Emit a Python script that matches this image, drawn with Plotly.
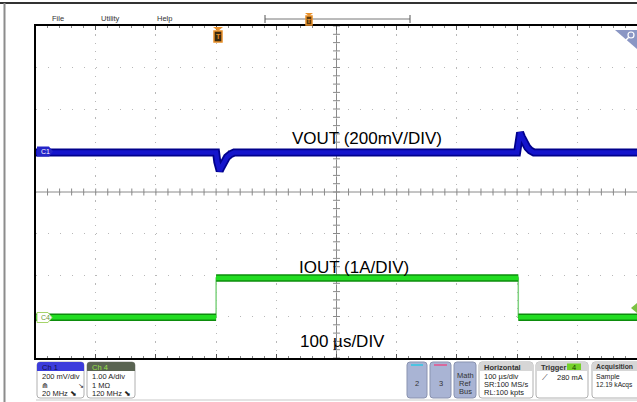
import numpy as np
import plotly.graph_objects as go

# ---- waveform data (time in µs, trigger at t=0) ----
VOUT_T_US = [-300, 0, 2, 4, 6, 9, 13, 18, 24, 30, 500, 502, 505, 508, 512, 517, 522, 528, 700]
VOUT_MV = [0, 0, -45, -80, -88, -70, -45, -22, -8, 0, 0, 60, 96, 75, 48, 25, 10, 0, 0]

IOUT_T_US = [-300, 0, 0, 502, 502, 700]
IOUT_A = [0, 0, 0.95, 0.95, 0, 0]

CH1_SCALE_MV = 200   # mV/div
CH1_OFFSET_DIV = 0.95
CH4_SCALE_A = 1.0    # A/div
CH4_OFFSET_DIV = -3.02

X_START_US = -300
US_PER_DIV = 100

W, H = 637, 402
FONT = "Liberation Sans"


def X(px):
    return px / W


def Y(py):
    return 1 - py / H


def rpath(x0, y0, x1, y1, r=3, top=True, bottom=True):
    rt = r if top else 0
    rb = r if bottom else 0
    return (f"M{X(x0 + rt)},{Y(y0)} L{X(x1 - rt)},{Y(y0)} Q{X(x1)},{Y(y0)} {X(x1)},{Y(y0 + rt)} "
            f"L{X(x1)},{Y(y1 - rb)} Q{X(x1)},{Y(y1)} {X(x1 - rb)},{Y(y1)} "
            f"L{X(x0 + rb)},{Y(y1)} Q{X(x0)},{Y(y1)} {X(x0)},{Y(y1 - rb)} "
            f"L{X(x0)},{Y(y0 + rt)} Q{X(x0)},{Y(y0)} {X(x0 + rt)},{Y(y0)} Z")


def flat_segments(t, v):
    # break the trace at vertical edges so only flat parts get the thick band
    xs, ys = [t[0]], [v[0]]
    for i in range(1, len(t)):
        if t[i] == t[i - 1]:
            xs.append(None)
            ys.append(None)
        xs.append(t[i])
        ys.append(v[i])
    return xs, ys


vout_div = [CH1_OFFSET_DIV + mv / CH1_SCALE_MV for mv in VOUT_MV]
iout_div = [CH4_OFFSET_DIV + a / CH4_SCALE_A for a in IOUT_A]

fig = go.Figure()

# center cross minor ticks
center_t = X_START_US + 5 * US_PER_DIV
minor_x = np.arange(X_START_US, X_START_US + 10 * US_PER_DIV + 1, US_PER_DIV / 5)
minor_y = np.arange(-4, 4.01, 0.2)
fig.add_trace(go.Scatter(x=minor_x, y=[0] * len(minor_x), mode="markers",
                         marker=dict(symbol="line-ns", size=5, line=dict(color="#8a8a8a", width=1)),
                         hoverinfo="skip"))
fig.add_trace(go.Scatter(x=[center_t] * len(minor_y), y=minor_y, mode="markers",
                         marker=dict(symbol="line-ew", size=5, line=dict(color="#8a8a8a", width=1)),
                         hoverinfo="skip"))

# Ch1 VOUT
fig.add_trace(go.Scatter(x=VOUT_T_US, y=vout_div, mode="lines",
                         line=dict(color="#00008c", width=8), hoverinfo="skip"))
fig.add_trace(go.Scatter(x=VOUT_T_US, y=vout_div, mode="lines",
                         line=dict(color="#1414cc", width=4.5), name="VOUT"))

# Ch4 IOUT
fig.add_trace(go.Scatter(x=IOUT_T_US, y=iout_div, mode="lines",
                         line=dict(color="#7fd27f", width=1.5), hoverinfo="skip"))
gx, gy = flat_segments(IOUT_T_US, iout_div)
fig.add_trace(go.Scatter(x=gx, y=gy, mode="lines", connectgaps=False,
                         line=dict(color="#0c8c0c", width=7.5), hoverinfo="skip"))
fig.add_trace(go.Scatter(x=gx, y=gy, mode="lines", connectgaps=False,
                         line=dict(color="#22dd22", width=4.5), name="IOUT"))

x_end = X_START_US + 10 * US_PER_DIV * (W - 35.5) / 602

fig.update_layout(
    width=W, height=H,
    margin=dict(l=0, r=0, t=0, b=0),
    paper_bgcolor="white", plot_bgcolor="white",
    showlegend=False,
    xaxis=dict(domain=[X(35.5), 1], range=[X_START_US, x_end],
               showline=True, linecolor="black", linewidth=2, mirror="ticks",
               ticks="inside", ticklen=4, tickcolor="#555", dtick=US_PER_DIV, tick0=X_START_US,
               minor=dict(ticks="inside", ticklen=2, dtick=US_PER_DIV / 5, tickcolor="#888"),
               showticklabels=False, zeroline=False,
               showgrid=True, gridcolor="#b8b8b8", gridwidth=1, griddash="1.2px,7.1px"),
    yaxis=dict(domain=[Y(358), Y(26)], range=[-4, 4],
               showline=True, linecolor="black", linewidth=2, mirror=False,
               ticks="", showticklabels=False, zeroline=False, dtick=1,
               showgrid=True, gridcolor="#b8b8b8", gridwidth=1, griddash="1.2px,10.8px"),
)

# center cross
fig.add_shape(type="line", xref="x", yref="paper", x0=center_t, x1=center_t, y0=Y(358), y1=Y(26),
              line=dict(color="#8a8a8a", width=1), layer="below")
fig.add_shape(type="line", xref="paper", yref="y", x0=X(35.5), x1=1, y0=0, y1=0,
              line=dict(color="#8a8a8a", width=1), layer="below")

shapes = []
# window frame
shapes.append(dict(type="line", x0=0, x1=1, y0=Y(3), y1=Y(3), line=dict(color="#333", width=2)))
shapes.append(dict(type="line", x0=X(4.5), x1=X(4.5), y0=Y(3), y1=0, line=dict(color="#8c8c8c", width=2)))
shapes.append(dict(type="line", x0=X(36), x1=1, y0=Y(400), y1=Y(400), line=dict(color="#c8c8c8", width=1)))

# timeline overview
shapes.append(dict(type="line", x0=X(265), x1=X(410), y0=Y(19), y1=Y(19), line=dict(color="#777", width=1)))
shapes.append(dict(type="line", x0=X(265), x1=X(265), y0=Y(15), y1=Y(23), line=dict(color="#555", width=1)))
shapes.append(dict(type="line", x0=X(410), x1=X(410), y0=Y(15), y1=Y(23), line=dict(color="#555", width=1)))
shapes.append(dict(type="path", path=f"M{X(305)},{Y(13)} L{X(313)},{Y(13)} L{X(309)},{Y(16)} Z",
                   fillcolor="#e8902a", line=dict(width=0)))
shapes.append(dict(type="rect", x0=X(306), x1=X(312), y0=Y(16), y1=Y(25),
                   fillcolor="#5a3a10", line=dict(color="#e8902a", width=1.5)))

# trigger position marker
shapes.append(dict(type="path", path=f"M{X(213)},{Y(27)} L{X(223)},{Y(27)} L{X(218)},{Y(31)} Z",
                   fillcolor="#e8902a", line=dict(width=0)))
shapes.append(dict(type="rect", x0=X(214), x1=X(222), y0=Y(31), y1=Y(42),
                   fillcolor="#3a2a10", line=dict(color="#e8902a", width=1.5)))

# channel tags
shapes.append(dict(type="path",
                   path=f"M{X(37)},{Y(146.5)} L{X(49)},{Y(146.5)} L{X(53)},{Y(151.5)} L{X(49)},{Y(156.5)} L{X(37)},{Y(156.5)} Z",
                   fillcolor="#2424c8", line=dict(width=0)))
shapes.append(dict(type="path",
                   path=f"M{X(37)},{Y(312.5)} L{X(48)},{Y(312.5)} L{X(52)},{Y(317.5)} L{X(48)},{Y(322.5)} L{X(37)},{Y(322.5)} Z",
                   fillcolor="white", line=dict(color="#a6d46a", width=1)))
# trigger level arrow
shapes.append(dict(type="path", path=f"M{X(637)},{Y(303)} L{X(631)},{Y(308)} L{X(637)},{Y(313)} Z",
                   fillcolor="#7cc243", line=dict(width=0)))
# zoom corner icon
shapes.append(dict(type="path", path=f"M{X(615)},{Y(30)} L{X(637)},{Y(30)} L{X(637)},{Y(49)} Z",
                   fillcolor="#8a96c4", line=dict(width=0)))
shapes.append(dict(type="circle", x0=X(628), x1=X(634), y0=Y(32), y1=Y(38),
                   fillcolor="rgba(0,0,0,0)", line=dict(color="white", width=1.2)))
shapes.append(dict(type="line", x0=X(628.5), x1=X(625), y0=Y(37.5), y1=Y(41), line=dict(color="white", width=1.5)))

# status bar boxes
shapes.append(dict(type="path", path=rpath(37, 362, 84, 398), fillcolor="white", line=dict(color="#b0b0b0", width=1)))
shapes.append(dict(type="path", path=rpath(37, 362, 84, 371, bottom=False), fillcolor="#3c3cdc", line=dict(width=0)))
shapes.append(dict(type="path", path=rpath(87, 362, 135, 398), fillcolor="white", line=dict(color="#b0b0b0", width=1)))
shapes.append(dict(type="path", path=rpath(87, 362, 135, 371, bottom=False), fillcolor="#5a6452", line=dict(width=0)))

for x0, x1 in [(407, 427), (430, 451), (454, 476)]:
    shapes.append(dict(type="path", path=rpath(x0, 362, x1, 398), fillcolor="#a9b4d4", line=dict(color="#8a93b0", width=1)))
shapes.append(dict(type="line", x0=X(411), x1=X(423), y0=Y(365), y1=Y(365), line=dict(color="#2ec8e6", width=1.5)))
shapes.append(dict(type="line", x0=X(434), x1=X(447), y0=Y(365), y1=Y(365), line=dict(color="#e8508a", width=1.5)))

for x0, x1 in [(479, 533), (536, 588), (592, 640)]:
    shapes.append(dict(type="path", path=rpath(x0, 362, x1, 398), fillcolor="white", line=dict(color="#b0b0b0", width=1)))
    shapes.append(dict(type="path", path=rpath(x0, 362, x1, 371, bottom=False), fillcolor="#d6d6d6", line=dict(width=0)))
shapes.append(dict(type="rect", x0=X(567), x1=X(581), y0=Y(363.5), y1=Y(370), fillcolor="#74d12a", line=dict(width=0)))

for s in shapes:
    s.setdefault("xref", "paper")
    s.setdefault("yref", "paper")
    fig.add_shape(**s)


def txt(x, y, s, size=7.5, color="#222", xanchor="left", bold=False, family=FONT):
    if bold:
        s = f"<b>{s}</b>"
    fig.add_annotation(x=X(x), y=Y(y), xref="paper", yref="paper", text=s, showarrow=False,
                       xanchor=xanchor, yanchor="middle", font=dict(family=family, size=size, color=color))


# menu
txt(50, 18, "File", color="#333")
txt(99, 18, "Utility", color="#333")
txt(155, 18, "Help", color="#333")
txt(309, 20.5, "T", size=6, color="#e8902a", xanchor="center", bold=True)
txt(218, 37, "T", size=7, color="#e8902a", xanchor="center", bold=True)

# channel tag labels
txt(39, 151.5, "C1", size=7, color="white")
txt(38.5, 317.5, "C4", size=7, color="#6a9a3a")

# waveform labels
txt(290, 139, "VOUT (200mV/DIV)", size=17, color="black")
txt(297, 267, "IOUT (1A/DIV)", size=17, color="black")
txt(298, 341, "100 µs/DIV", size=17, color="black")

# Ch 1 box
txt(40, 367, "Ch 1", color="#12124a")
txt(40, 376.5, "200 mV/div")
txt(40, 385, "⋒", size=7)
txt(76, 385, "↘", size=7)
txt(40, 393, "20 MHz ⬊", size=7.5)
# Ch 4 box
txt(90, 367, "Ch 4", color="#98e048")
txt(90, 376.5, "1.00 A/div")
txt(90, 385, "1 MΩ")
txt(90, 393, "120 MHz ⬊")
# 2 / 3 / Math
txt(417, 383, "2", xanchor="center", color="#333")
txt(440.5, 383, "3", xanchor="center", color="#333")
txt(465, 375, "Math", xanchor="center", color="#333")
txt(465, 383, "Ref", xanchor="center", color="#333")
txt(465, 391, "Bus", xanchor="center", color="#333")
# Horizontal
txt(482, 367, "Horizontal", bold=True, color="#333")
txt(482, 376.5, "100 µs/div")
txt(482, 384.5, "SR:100 MS/s")
txt(482, 392.5, "RL:100 kpts")
# Trigger
txt(539, 367, "Trigger", bold=True, color="#333")
txt(574, 367, "4", xanchor="center", color="#1a3a00")
txt(540, 377, "⟋", size=8)
txt(555, 377, "280 mA")
# Acquisition
txt(594, 367, "Acquisition", size=6.8, bold=True, color="#333")
txt(594, 376.5, "Sample", size=7)
txt(594, 384.5, "12.19 kAcqs", size=6.6)

fig.write_html("out.html", config={"displayModeBar": False},
               post_script="document.body.style.margin='0';document.body.style.overflow='hidden';")
